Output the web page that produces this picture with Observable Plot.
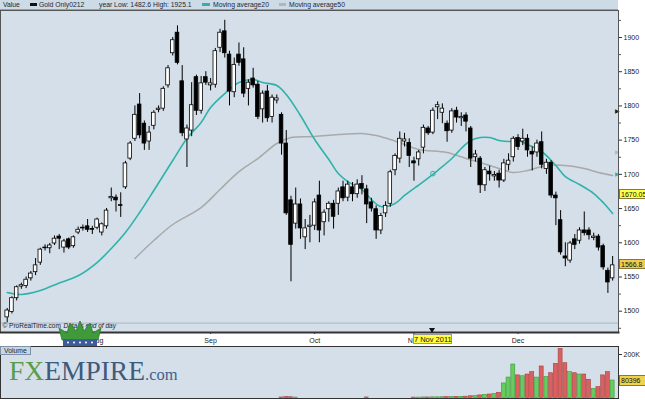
<!DOCTYPE html>
<html><head><meta charset="utf-8">
<script src="https://cdn.jsdelivr.net/npm/d3@7"></script>
<script src="https://cdn.jsdelivr.net/npm/@observablehq/plot@0.6"></script>
<style>
html,body{margin:0;padding:0;background:#fff;}
#wrap{position:relative;width:645px;height:400px;overflow:hidden;font-family:"Liberation Sans",Arial,sans-serif;background:#fff;}
.abs{position:absolute;white-space:nowrap;}
</style></head><body><div id="wrap"></div>
<script>
// ---- data, one entry per trading day ----
const open = [1491,1499,1519,1536,1537,1548,1557,1571,1592,1592, 1599,1609,1593,1605,1595,1615,1621,1624,1620,1622, 1615,1624,1665,1666,1655,1681,1723,1752,1802,1774, 1748,1771,1794,1796,1830,1877,1907,1836,1751,1764, 1842,1793,1842,1830,1831,1885,1909,1875,1820,1875, 1868,1825,1840,1831,1795,1821,1784,1808,1787,1745, 1662,1628,1656,1608,1623,1625,1669,1630,1649,1657, 1657,1681,1666,1681,1671,1686,1678,1659,1649,1618, 1643,1657,1706,1723,1748,1746,1719,1722,1739,1767, 1761,1798,1790,1774,1764,1793,1782,1786,1767,1725, 1723,1684,1704,1697,1701,1691,1714,1725,1753,1748, 1752,1733,1732,1747,1708,1717,1669,1633,1580,1574, 1605,1603,1618,1618,1607,1609,1595,1559,1548];
const high = [1504,1521,1537,1541,1550,1558,1577,1592,1597,1599, 1610,1612,1605,1607,1610,1623,1626,1634,1624,1636, 1629,1650,1680,1670,1673,1719,1748,1800,1818,1778, 1770,1793,1800,1828,1859,1900,1917,1859,1772,1834, 1845,1843,1850,1840,1884,1912,1925.1,1880,1870,1892, 1885,1838,1855,1836,1822,1830,1816,1816,1790,1764, 1668,1680,1664,1634,1640,1664,1690,1648,1660,1662, 1680,1690,1690,1688,1692,1698,1684,1665,1654,1643, 1660,1706,1730,1762,1760,1752,1725,1735,1772,1770, 1797,1806,1803,1778,1796,1798,1790,1790,1770,1735, 1726,1710,1712,1704,1706,1722,1730,1755,1758,1766, 1758,1740,1750,1762,1722,1720,1674,1647,1600,1602, 1612,1622,1645,1622,1614,1612,1598,1563,1580];
const low = [1483,1496,1515,1532,1533,1544,1552,1567,1588,1584, 1596,1590,1585,1590,1592,1612,1617,1615,1612,1619, 1610,1620,1660,1645,1637,1678,1720,1748,1752,1735, 1735,1765,1790,1792,1826,1873,1860,1755,1710,1755, 1786,1788,1830,1822,1826,1878,1870,1800,1812,1858, 1812,1800,1826,1780,1775,1776,1775,1803,1728,1640, 1543,1620,1605,1590,1600,1618,1600,1610,1630,1620, 1640,1660,1660,1660,1665,1670,1628,1645,1605,1612, 1637,1652,1698,1716,1740,1710,1690,1712,1730,1757, 1758,1780,1774,1747,1760,1775,1770,1762,1710,1718, 1672,1675,1690,1690,1680,1688,1705,1718,1735,1742, 1725,1705,1725,1708,1700,1665,1625,1582,1565,1570, 1590,1598,1610,1604,1603,1588,1560,1526,1544];
const close = [1501,1519,1535,1538,1546,1555,1567,1590,1593,1596, 1606,1606,1602,1593,1608,1619,1622,1619,1619,1634, 1627,1647,1667,1662,1654,1716,1745,1787,1757,1745, 1761,1790,1796,1825,1855,1896,1863,1760,1767,1801, 1793,1833,1834,1833,1880,1907,1877,1821,1860,1863, 1818,1834,1830,1784,1818,1782,1812,1811,1745,1643, 1597,1656,1621,1621,1625,1659,1618,1644,1657,1638, 1675,1665,1685,1671,1685,1679,1656,1650,1618,1639, 1654,1703,1727,1752,1751,1727,1716,1732,1768,1760, 1793,1801,1796,1763,1792,1783,1784,1777,1723,1729, 1684,1706,1700,1699,1691,1716,1720,1752,1740,1752, 1735,1729,1745,1714,1717,1669,1665,1586,1577,1599, 1597,1618,1614,1611,1609,1593,1564,1542,1567];
const volume = [0,0,0,0,0,0,0,0,0,0, 0,0,0,0,0,0,0,0,0,0, 0,0,0,0,0,0,0,0,0,0, 0,0,0,0,0,0,0,0,0,0, 0,0,0,0,0,0,0,0,0,0, 0,0,0,0,0,0,0,0,2500,4000, 3500,2000,0,0,0,0,0,0,0,0, 0,0,0,0,0,0,2500,0,0,0, 0,0,0,0,0,0,2000,2000,2500,2500, 3000,3000,3500,4000,4000,4500,5000,6000,8000,9000, 12000,14000,16000,18000,24000,67000,94000,154000,104000,100000, 108000,119000,94000,145000,96000,114000,157000,226000,160000,119000, 114000,108000,108000,84000,42000,50000,104000,119000,80396];
const ma20Idx = [0,3,7,11,15,19,22,25,28,31,35,38,41,43,46,49,52,54,57,59,62,65,68,70,72,75,77,79,82,84,88,91,94,96,98,100,102,104,106,108,110,113,116,118,121,124,126,128];
const ma20 = [1527.3,1524.4,1530.2,1541.2,1551.8,1571.1,1591.6,1615,1644.2,1676.4,1720.2,1752.4,1775.8,1797.7,1818.1,1834.2,1838.6,1834.2,1829.8,1816.7,1786,1750.9,1721.7,1701.2,1689.5,1677.8,1663.2,1653,1657.4,1669.1,1689.5,1705.6,1723.1,1737.8,1749.5,1753.8,1753.8,1749.5,1748,1749.5,1743.6,1733.4,1712.9,1696.8,1685.1,1672,1658.8,1642.8];
const ma50Idx = [27,31,35,41,45,49,53,57,60,65,70,75,78,81,84,87,93,97,100,104,107,110,114,118,122,125,128];
const ma50 = [1577,1603.3,1626.7,1651.5,1677.8,1704.1,1723.1,1745.1,1753.8,1755.3,1758.2,1759.7,1756.8,1750.9,1743.6,1736.3,1731.9,1723.1,1717.3,1708.5,1702.7,1705.6,1712.9,1712.9,1708.5,1702.7,1698.3];
const monthTickIdx = [19, 43, 65, 86, 108];
const monthLabels = ["Aug", "Sep", "Oct", "Nov", "Dec"];
const priceTicks = [1500, 1550, 1600, 1650, 1700, 1750, 1800, 1850, 1900];
const minorTicks = [1475, 1525, 1575, 1625, 1675, 1725, 1775, 1825, 1875, 1925];
const volTicks = [200000];
const yearLow = 1482.6, yearHigh = 1925.1;
const valueTags = [{v: 1670.05, bg: "#ffff4a"}, {v: 1566.8, bg: "#f0cc4e"}];
const volTag = 80396;
const cursorIdx = 90, cursorLabel = "7 Nov 2011", cursorMA20 = 1701, cursorMA50 = 1733;

// ---- styling ----
const TEAL = "#2fb2aa", GREY = "#a9a9a9", BG = "#d4dfe9";
const xDomain = [-1.4165, 129.24];
const yDomain = [1468.87, 1939.46];

const candles = close.map((c, i) => ({i, open: open[i], high: high[i], low: low[i], close: c, up: c >= open[i]}));
const ma20Data = ma20Idx.map((i, k) => ({i, v: ma20[k]}));
const ma50Data = ma50Idx.map((i, k) => ({i, v: ma50[k]}));
const markers = [
  {v: close[cursorIdx], c: "#222"},
  {v: cursorMA50, c: "#b8b8b8"},
  {v: cursorMA20, c: TEAL}
];
const font = "Liberation Sans, Arial, sans-serif";

const main = Plot.plot({
  width: 645, height: 336,
  marginLeft: 0, marginRight: 27, marginTop: 0, marginBottom: 14,
  style: {background: "#fff", fontFamily: font, fontSize: "7px", color: "#222", overflow: "visible"},
  color: {type: "identity"},
  x: {domain: xDomain, axis: null},
  y: {domain: yDomain, axis: null},
  marks: [
    Plot.frame({fill: BG}),
    Plot.ruleY([yearLow], {stroke: "#aab6c1", strokeWidth: 1}),
    Plot.line(ma50Data, {x: "i", y: "v", stroke: GREY, strokeWidth: 1.5, curve: "catmull-rom"}),
    Plot.line(ma20Data, {x: "i", y: "v", stroke: TEAL, strokeWidth: 1.6, curve: "catmull-rom"}),
    Plot.ruleX(candles, {x: "i", y1: "low", y2: "high", stroke: "#000", strokeWidth: 1}),
    Plot.rect(candles, {x1: d => d.i - 0.38, x2: d => d.i + 0.38, y1: "open", y2: "close",
      fill: d => d.up ? "#fff" : "#000", stroke: "#000", strokeWidth: 0.8}),
    Plot.dot([{i: cursorIdx, v: cursorMA20}], {x: "i", y: "v", r: 2.3, stroke: TEAL, fill: "none", strokeWidth: 1}),
    Plot.text(markers, {y: "v", text: () => "\u25B6", frameAnchor: "right", textAnchor: "end", fill: "c", fontSize: 6, dx: 1}),
    Plot.text(["\u00A9 ProRealTime.com"], {frameAnchor: "bottom-left", textAnchor: "start", dx: 2, dy: -5, fontSize: 6.5, fill: "#222"}),
    Plot.text(["Data is end of day"], {frameAnchor: "bottom-left", textAnchor: "start", dx: 63, dy: -5, fontSize: 6.5, fill: "#222", fontStyle: "italic"}),
    Plot.axisY(priceTicks, {anchor: "right", tickSize: 3, tickPadding: 2, tickFormat: d => String(d), label: null, fill: "#222", stroke: "#333"}),
    Plot.axisY(minorTicks, {anchor: "right", tickSize: 2, tickFormat: () => "", label: null, stroke: "#555"}),
    Plot.axisX(monthTickIdx, {anchor: "bottom", tickSize: 2, tickPadding: 4, tickFormat: d => monthLabels[monthTickIdx.indexOf(d)], label: null, fill: "#222", stroke: "#333"}),
    Plot.frame({stroke: "#555", strokeWidth: 1}),
    Plot.frame({anchor: "bottom", stroke: "#333", strokeWidth: 2})
  ]
});

const volData = volume.map((v, i) => ({i, vol: v, base: 0, up: close[i] >= open[i]})).filter(d => d.vol > 0);
const vol = Plot.plot({
  width: 645, height: 54,
  marginLeft: 0, marginRight: 27, marginTop: 0, marginBottom: 2,
  style: {background: "#fff", fontFamily: font, fontSize: "7px", color: "#222", overflow: "visible"},
  color: {type: "identity"},
  x: {domain: xDomain, axis: null},
  y: {domain: [-2300, 236900], axis: null},
  marks: [
    Plot.frame({fill: BG}),
    Plot.rect(volData, {x1: d => d.i - 0.42, x2: d => d.i + 0.42, y1: "base", y2: "vol",
      fill: d => d.up ? "#66cc5f" : "#d9605e", stroke: d => d.up ? "#3a9a36" : "#a84040", strokeWidth: 0.6}),
    Plot.axisY(volTicks, {anchor: "right", tickSize: 3, tickPadding: 2, tickFormat: d => (d / 1000) + "K", label: null, fill: "#222", stroke: "#333"}),
    Plot.frame({stroke: "#333", strokeWidth: 1})
  ]
});

const wrap = document.getElementById("wrap");
function abs(html, css) {
  const d = document.createElement("div");
  d.className = "abs";
  d.innerHTML = html;
  Object.assign(d.style, css);
  wrap.appendChild(d);
  return d;
}

// legend strip above the chart
const legend = abs("", {left: "0px", top: "0px", width: "618px", height: "9px", background: "#cddbe7", borderBottom: "1px solid #8ea2b4", fontSize: "6.8px", lineHeight: "10px", color: "#1c2833"});
const legendItems = [
  {x: 3, text: "Value"},
  {x: 30, sw: "#111", w: 7},
  {x: 39, text: "Gold Only0212"},
  {x: 99, text: "year Low: " + yearLow + " High: " + yearHigh},
  {x: 202, sw: TEAL, w: 8},
  {x: 213, text: "Moving average20"},
  {x: 279, sw: "#b5b5b5", w: 7},
  {x: 289, text: "Moving average50"}
];
for (const it of legendItems) {
  const s = document.createElement("span");
  s.style.position = "absolute";
  s.style.left = it.x + "px";
  if (it.sw) { Object.assign(s.style, {top: "3px", width: it.w + "px", height: "3px", background: it.sw}); }
  else { s.style.top = "0px"; s.textContent = it.text; }
  legend.appendChild(s);
}

main.style.position = "absolute"; main.style.left = "0px"; main.style.top = "10px";
vol.style.position = "absolute"; vol.style.left = "0px"; vol.style.top = "346px";
wrap.appendChild(main);
wrap.appendChild(vol);

const sx = main.scale("x"), sy = main.scale("y"), vy = vol.scale("y");
// value tags on the price axis
for (const t of valueTags) {
  abs(String(t.v), {left: "619px", top: (10 + sy.apply(t.v) - 5.5) + "px", width: "30px", height: "10px", background: t.bg,
    border: "1px solid #8a7a30", fontSize: "7px", lineHeight: "10px", paddingLeft: "1px", color: "#111", boxSizing: "border-box"});
}
abs(String(volTag), {left: "619px", top: (346 + vy.apply(volTag) - 5.5) + "px", width: "30px", height: "11px", background: "#f2d24c",
  border: "1px solid #8a7a30", fontSize: "7px", lineHeight: "10px", paddingLeft: "1px", color: "#111", boxSizing: "border-box"});
// cursor date box and marker
const cx = sx.apply(cursorIdx);
abs(cursorLabel, {left: (cx - 19.5) + "px", top: "334px", width: "39px", height: "10px", background: "#ffff3c", border: "1px solid #999",
  fontSize: "7.5px", lineHeight: "9px", textAlign: "center", color: "#111", boxSizing: "border-box"});
abs("", {left: (cx - 3.5) + "px", top: "328px", width: "0px", height: "0px", borderLeft: "3.5px solid transparent", borderRight: "3.5px solid transparent", borderTop: "5px solid #111"});
// volume panel label
abs("Volume", {left: "0px", top: "346px", width: "31px", height: "9px", background: "#c7d6e2", border: "1px solid #7d93a5",
  fontSize: "6.8px", lineHeight: "8px", paddingLeft: "3px", color: "#1c2833", boxSizing: "border-box"});
// watermark
abs('<span style="color:#5a9c48">FX</span><span style="color:#3e5a7c">EMPIRE</span><span style="color:#3e5f8e;font-size:16.5px">.com</span>',
  {left: "9px", top: "361px", fontFamily: "Liberation Serif, Times New Roman, serif", fontSize: "27.5px", lineHeight: "20px"});
// crown logo
abs('<svg width="46" height="27" viewBox="0 0 46 27"><path d="M5,19 L2,7 L10,12 L13,2 L19,10 L23,0 L27,10 L33,2 L36,12 L44,7 L41,19 Z" fill="#3f9b3a" stroke="#2d7a2a" stroke-width="0.8"/>' +
  '<rect x="6" y="18" width="34" height="7" fill="#3a5c9c"/>' +
  '<circle cx="11" cy="21.5" r="1" fill="#fff"/><circle cx="17" cy="21.5" r="1" fill="#fff"/><circle cx="23" cy="21.5" r="1" fill="#fff"/><circle cx="29" cy="21.5" r="1" fill="#fff"/><circle cx="35" cy="21.5" r="1" fill="#fff"/></svg>',
  {left: "57px", top: "321px", lineHeight: "0"});
</script></body></html>
